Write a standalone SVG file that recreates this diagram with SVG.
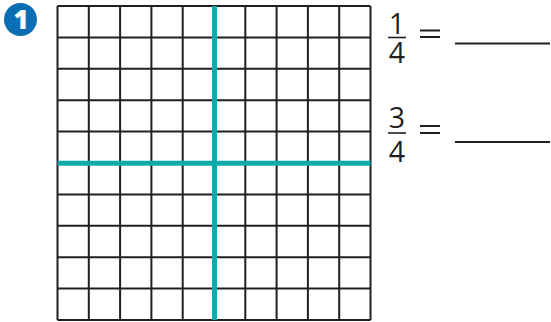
<svg xmlns="http://www.w3.org/2000/svg" width="551" height="322" viewBox="0 0 551 322">
<style>
.g{stroke:#231f20;stroke-width:2;fill:none}
.t{stroke:#0aaba8;stroke-width:5;fill:none}
.n{font-family:"Open Sans","Liberation Sans",sans-serif;font-size:28.5px;fill:#231f20;text-anchor:middle}
.bar{stroke:#231f20;stroke-width:1.6}
.eq{stroke:#231f20;stroke-width:2}
.ans{stroke:#231f20;stroke-width:2}
</style>
<rect width="551" height="322" fill="#fff"/>
<g id="badge">
<circle cx="20.5" cy="19.5" r="16.5" fill="#0a6eb4"/>
<text x="21" y="28.5" font-family="Open Sans, Liberation Sans, sans-serif" font-size="26" font-weight="800" fill="#fff" text-anchor="middle">1</text>
</g>
<g id="grid">
<path class="g" d="M57.5 6H370.5M57.5 37.4H370.5M57.5 68.8H370.5M57.5 100.2H370.5M57.5 131.6H370.5M57.5 163H370.5M57.5 194.4H370.5M57.5 225.8H370.5M57.5 257.2H370.5M57.5 288.6H370.5M57.5 320H370.5"/>
<path class="g" d="M57.5 6V320M88.8 6V320M120.1 6V320M151.4 6V320M182.7 6V320M214 6V320M245.3 6V320M276.6 6V320M307.9 6V320M339.2 6V320M370.5 6V320"/>
</g>
<g id="dividers">
<path class="t" d="M214.5 6V320M57.5 163.3H370.5"/>
</g>
<g id="frac1">
<text class="n" x="397" y="33.5">1</text>
<line class="bar" x1="388" y1="37.5" x2="406" y2="37.5"/>
<text class="n" x="397" y="63">4</text>
<line class="eq" x1="420" y1="30.5" x2="440" y2="30.5"/>
<line class="eq" x1="420" y1="37" x2="440" y2="37"/>
<line class="ans" x1="455" y1="43.5" x2="550" y2="43.5"/>
</g>
<g id="frac2">
<text class="n" x="397" y="128">3</text>
<line class="bar" x1="388" y1="133" x2="406" y2="133"/>
<text class="n" x="397" y="162">4</text>
<line class="eq" x1="420" y1="126" x2="440" y2="126"/>
<line class="eq" x1="420" y1="133" x2="440" y2="133"/>
<line class="ans" x1="455" y1="142" x2="550" y2="142"/>
</g>
</svg>
